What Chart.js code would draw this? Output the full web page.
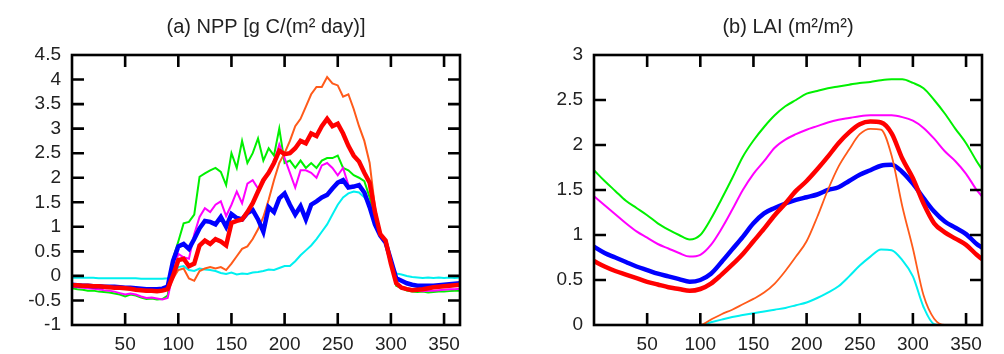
<!DOCTYPE html>
<html>
<head>
<meta charset="utf-8">
<script src="https://cdn.jsdelivr.net/npm/chart.js@4/dist/chart.umd.min.js"></script>
<style>
  body { margin: 0; background: #fff; }
  #wrap { position: relative; width: 1004px; height: 354px; }
  canvas { position: absolute; top: 0; }
  #npp { left: 0; }
  #lai { left: 500px; }
</style>
</head>
<body>
<div id="wrap">
  <canvas id="npp" width="500" height="354"></canvas>
  <canvas id="lai" width="504" height="354"></canvas>
</div>
<script>
// (a) NPP, day of year every 5 days
const nppDays = [0,5,10,15,20,25,30,35,40,45,50,55,60,65,70,75,80,85,90,
  95,100,105,110,115,120,125,130,135,140,145,150,155,160,165,170,175,180,185,190,195,200,205,
  210,215,220,225,230,235,240,245,250,255,260,265,270,275,280,285,290,295,300,305,310,315,320,
  325,330,335,340,345,350,355,360,365];

const nppCyan = [-0.04,-0.04,-0.04,-0.04,-0.04,-0.05,-0.05,-0.05,-0.05,-0.05,-0.05,-0.05,-0.05,-0.06,-0.06,-0.06,-0.06,-0.06,-0.05,
  0.02,0.18,0.2,0.12,0.1,0.15,0.13,0.12,0.1,0.06,0.04,0.07,0.03,0.05,0.04,0.07,0.08,0.1,0.13,0.12,0.16,0.2,0.2,
  0.3,0.42,0.52,0.62,0.75,0.9,1.05,1.25,1.45,1.6,1.68,1.72,1.7,1.6,1.45,1.1,0.82,0.65,0.3,0.05,0.03,0.0,-0.02,
  -0.03,-0.04,-0.03,-0.04,-0.03,-0.04,-0.03,-0.04,-0.03];

const nppGreen = [-0.25,-0.27,-0.28,-0.3,-0.3,-0.32,-0.33,-0.34,-0.36,-0.38,-0.42,-0.38,-0.4,-0.44,-0.47,-0.46,-0.48,-0.47,-0.4,
  0.35,0.7,1.07,1.1,1.25,2.02,2.09,2.15,2.2,2.12,1.85,2.5,2.2,2.75,2.3,2.5,2.8,2.35,2.6,2.45,3.0,2.3,2.35,
  2.2,2.35,2.2,2.3,2.2,2.35,2.4,2.4,2.45,2.2,2.15,2.05,2.0,1.93,1.6,1.15,0.82,0.68,0.3,-0.2,-0.25,-0.3,-0.32,
  -0.33,-0.32,-0.34,-0.33,-0.32,-0.32,-0.31,-0.3,-0.3];

const nppMagenta = [-0.22,-0.23,-0.24,-0.25,-0.26,-0.27,-0.29,-0.3,-0.32,-0.35,-0.38,-0.36,-0.38,-0.42,-0.45,-0.44,-0.46,-0.48,-0.45,
  0.05,0.45,0.38,0.35,0.85,1.2,1.38,1.3,1.45,1.52,1.22,1.45,1.72,1.48,1.88,1.95,1.78,1.9,2.1,2.3,2.68,2.4,2.1,
  1.8,2.15,2.15,2.1,2.0,2.25,2.3,2.2,2.05,2.2,1.85,1.8,1.85,1.72,1.45,1.1,0.82,0.68,0.3,-0.15,-0.25,-0.28,-0.3,
  -0.3,-0.31,-0.3,-0.3,-0.29,-0.28,-0.27,-0.27,-0.26];

const nppBlue = [-0.18,-0.19,-0.2,-0.2,-0.21,-0.21,-0.22,-0.22,-0.22,-0.23,-0.24,-0.24,-0.25,-0.26,-0.27,-0.27,-0.27,-0.26,-0.22,
  0.3,0.6,0.65,0.55,0.75,0.97,1.12,1.1,1.05,1.2,1.0,1.26,1.18,1.15,1.28,1.34,1.15,0.9,1.4,1.3,1.58,1.68,1.45,
  1.25,1.42,1.15,1.45,1.52,1.6,1.65,1.78,1.9,1.95,1.8,1.82,1.85,1.7,1.4,1.05,0.82,0.68,0.32,-0.05,-0.1,-0.15,-0.18,
  -0.2,-0.2,-0.2,-0.2,-0.19,-0.18,-0.17,-0.16,-0.15];

const nppOrange = [-0.2,-0.2,-0.21,-0.21,-0.22,-0.22,-0.23,-0.24,-0.25,-0.25,-0.26,-0.27,-0.28,-0.3,-0.31,-0.31,-0.32,-0.31,-0.28,
  -0.05,0.12,0.15,-0.05,-0.1,0.1,0.15,0.18,0.15,0.18,0.12,0.25,0.4,0.55,0.6,0.75,0.95,1.2,1.55,1.95,2.3,2.5,2.75,
  3.05,3.2,3.45,3.7,3.85,3.85,4.05,3.92,3.88,3.65,3.7,3.4,3.05,2.75,2.3,1.4,0.85,0.7,0.28,-0.15,-0.22,-0.25,-0.27,
  -0.27,-0.26,-0.25,-0.24,-0.23,-0.22,-0.21,-0.2,-0.2];

const nppRed = [-0.19,-0.19,-0.2,-0.2,-0.21,-0.21,-0.22,-0.23,-0.24,-0.24,-0.25,-0.26,-0.28,-0.29,-0.3,-0.3,-0.31,-0.3,-0.27,
  0.0,0.32,0.35,0.2,0.25,0.62,0.72,0.65,0.75,0.7,0.62,1.08,1.12,1.15,1.3,1.48,1.72,1.95,2.1,2.3,2.55,2.48,2.5,
  2.6,2.75,2.7,2.9,2.85,3.05,3.2,3.05,3.1,2.9,2.65,2.45,2.33,2.1,1.9,1.3,0.85,0.72,0.25,-0.15,-0.24,-0.27,-0.29,
  -0.28,-0.27,-0.25,-0.23,-0.22,-0.21,-0.2,-0.19,-0.18];

// (b) LAI, every 10 days
const laiDays = [0,10,20,30,40,50,60,70,80,90,100,110,120,130,140,150,160,170,180,190,
  200,210,220,230,240,250,260,270,280,290,300,310,320,330,340,350,360,365];

const laiGreen = [1.72,1.6,1.49,1.38,1.3,1.22,1.13,1.06,1.0,0.95,1.0,1.18,1.4,1.63,1.87,2.05,2.2,2.33,2.43,2.5,
  2.57,2.6,2.63,2.65,2.67,2.69,2.7,2.72,2.73,2.73,2.69,2.63,2.5,2.35,2.18,2.02,1.82,1.73];
const laiMagenta = [1.43,1.33,1.23,1.13,1.04,0.97,0.9,0.85,0.8,0.76,0.78,0.89,1.07,1.28,1.5,1.68,1.82,1.97,2.06,2.12,
  2.17,2.21,2.25,2.28,2.3,2.32,2.33,2.33,2.33,2.31,2.27,2.19,2.07,1.93,1.82,1.68,1.5,1.43];
const laiBlue = [0.87,0.8,0.75,0.7,0.65,0.61,0.57,0.54,0.51,0.48,0.5,0.57,0.7,0.84,0.98,1.13,1.24,1.3,1.35,1.39,
  1.42,1.45,1.5,1.53,1.6,1.67,1.72,1.77,1.78,1.7,1.57,1.41,1.26,1.15,1.08,1.01,0.9,0.86];
const laiRed = [0.71,0.65,0.6,0.56,0.52,0.48,0.45,0.42,0.4,0.38,0.4,0.46,0.56,0.67,0.79,0.93,1.07,1.22,1.35,1.49,
  1.6,1.73,1.87,2.02,2.14,2.23,2.26,2.25,2.13,1.85,1.63,1.35,1.13,1.03,0.96,0.89,0.78,0.73];
const laiOrange = [0,0,0,0,0,0,0,0,0,0,0,0.06,0.12,0.17,0.23,0.29,0.36,0.46,0.6,0.76,
  0.93,1.2,1.5,1.76,1.95,2.12,2.18,2.17,1.88,1.32,0.85,0.33,0.07,0,0,0,0,0];
const laiCyan = [0,0,0,0,0,0,0,0,0,0,0,0.03,0.06,0.09,0.11,0.13,0.15,0.17,0.19,0.22,
  0.25,0.3,0.36,0.43,0.54,0.66,0.76,0.84,0.83,0.72,0.54,0.2,0.01,0,0,0,0,0];

const FONT = "'Liberation Sans', Arial, sans-serif";

// black frame with inward ticks on all four sides
const framePlugin = {
  id: 'frame',
  afterDatasetsDraw(chart) {
    const ctx = chart.ctx;
    const a = chart.chartArea;
    const xs = chart.scales.x, ys = chart.scales.y;
    const len = 12;
    ctx.save();
    ctx.strokeStyle = '#000';
    ctx.lineWidth = 2.6;
    ctx.beginPath();
    xs.ticks.forEach(t => {
      if (t.value <= xs.min || t.value >= xs.max) return;
      const px = xs.getPixelForValue(t.value);
      ctx.moveTo(px, a.bottom); ctx.lineTo(px, a.bottom - len);
      ctx.moveTo(px, a.top); ctx.lineTo(px, a.top + len);
    });
    ys.ticks.forEach(t => {
      if (t.value <= ys.min || t.value >= ys.max) return;
      const py = ys.getPixelForValue(t.value);
      ctx.moveTo(a.left, py); ctx.lineTo(a.left + len, py);
      ctx.moveTo(a.right, py); ctx.lineTo(a.right - len, py);
    });
    ctx.stroke();
    ctx.strokeRect(a.left, a.top, a.right - a.left, a.bottom - a.top);
    ctx.restore();
  }
};

function line(days, values, color, width) {
  return {
    data: values.map((v, i) => ({x: days[i], y: v})),
    borderColor: color,
    borderWidth: width,
    pointRadius: 0,
    fill: false
  };
}

function makeChart(id, title, datasets, yMin, yMax, yWidth, padRight, smooth) {
  return new Chart(document.getElementById(id), {
    type: 'line',
    data: { datasets: datasets },
    options: {
      responsive: false,
      animation: false,
      events: [],
      elements: { line: smooth ? { cubicInterpolationMode: 'monotone' } : { tension: 0 } },
      layout: { padding: { left: 0, right: padRight, top: 0, bottom: 0 } },
      plugins: {
        legend: { display: false },
        tooltip: { enabled: false },
        title: {
          display: true,
          text: title,
          fullSize: false,
          color: '#222',
          font: { family: FONT, size: 20, weight: 'normal' },
          padding: { top: 15, bottom: 16 }
        }
      },
      scales: {
        x: {
          type: 'linear',
          min: 0,
          max: 365,
          grid: { display: false, drawTicks: false },
          border: { display: false },
          afterFit: s => { s.height = 29; },
          ticks: {
            stepSize: 50,
            includeBounds: false,
            maxRotation: 0,
            autoSkip: false,
            padding: 8,
            color: '#222',
            font: { family: FONT, size: 19 },
            callback: v => (v === 0 ? '' : String(v))
          }
        },
        y: {
          min: yMin,
          max: yMax,
          grid: { display: false, drawTicks: false },
          border: { display: false },
          afterFit: s => { s.width = yWidth; },
          ticks: {
            stepSize: 0.5,
            autoSkip: false,
            padding: 11,
            color: '#222',
            font: { family: FONT, size: 19 },
            callback: v => String(Math.round(v * 10) / 10)
          }
        }
      }
    },
    plugins: [framePlugin]
  });
}

// first dataset is drawn on top
makeChart('npp', '(a) NPP [g C/(m\u00b2 day)]', [
  line(nppDays, nppRed, '#ff0000', 4.5),
  line(nppDays, nppBlue, '#0000ff', 4.5),
  line(nppDays, nppOrange, '#ff5a1a', 2),
  line(nppDays, nppMagenta, '#ff00ff', 2),
  line(nppDays, nppGreen, '#00f000', 2),
  line(nppDays, nppCyan, '#00f0f0', 2)
], -1, 4.5, 72, 40, false);

makeChart('lai', '(b) LAI (m\u00b2/m\u00b2)', [
  line(laiDays, laiRed, '#ff0000', 4.5),
  line(laiDays, laiOrange, '#ff5a1a', 1.8),
  line(laiDays, laiBlue, '#0000ff', 4.5),
  line(laiDays, laiMagenta, '#ff00ff', 2),
  line(laiDays, laiGreen, '#00f000', 2),
  line(laiDays, laiCyan, '#00f0f0', 2)
], 0, 3, 94, 22, true);
</script>
</body>
</html>
